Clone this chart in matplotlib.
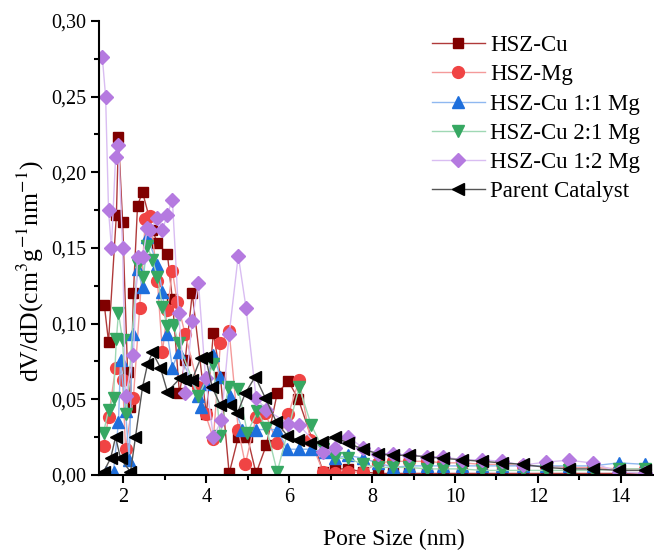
import matplotlib
matplotlib.use("Agg")
import matplotlib.pyplot as plt
from matplotlib.ticker import MultipleLocator, FuncFormatter

plt.rcParams['font.family'] = ['Liberation Serif', 'DejaVu Serif']
plt.rcParams['mathtext.fontset'] = 'stix'

# BJH pore size distributions, dV/dD in cm3 g-1 nm-1
tail_x = [7.11, 7.42, 7.78, 8.14, 8.51, 8.89, 9.33, 9.71, 10.17, 10.65,
          11.13, 11.64, 12.19, 12.75, 13.33, 13.95, 14.58]

cu_x = [1.54, 1.64, 1.83, 1.88, 1.98, 2.10, 2.17, 2.24, 2.34, 2.46, 2.70, 2.82,
        3.06, 3.18, 3.35, 3.49, 3.66, 4.00, 4.17, 4.34, 4.55, 4.77, 4.99, 5.20,
        5.45, 5.71, 5.98, 6.22, 6.82] + tail_x
cu_y = [0.112, 0.088, 0.172, 0.223, 0.167, 0.068, 0.045, 0.120, 0.178, 0.187,
        0.162, 0.153, 0.146, 0.116, 0.054, 0.076, 0.120, 0.040, 0.094, 0.065,
        0.001, 0.025, 0.025, 0.001, 0.020, 0.054, 0.062, 0.050, 0.002,
        0.004, 0.004, 0.002, 0.001, 0.001, 0.001, 0.001, 0.001, 0.001, 0.001,
        0.001, 0.001, 0.001, 0.001, 0.001, 0.001, 0.001]

mg_x = [1.52, 1.64, 1.81, 1.98, 2.05, 2.24, 2.39, 2.53, 2.65, 2.82, 2.94, 3.06,
        3.18, 3.30, 3.49, 3.81, 3.98, 4.17, 4.34, 4.55, 4.77, 4.94, 5.20, 5.42,
        5.71, 5.98, 6.24, 6.51, 6.82] + tail_x
mg_y = [0.019, 0.038, 0.071, 0.063, 0.017, 0.051, 0.110, 0.169, 0.171, 0.128,
        0.081, 0.109, 0.135, 0.114, 0.093, 0.058, 0.040, 0.024, 0.087, 0.095,
        0.030, 0.007, 0.038, 0.041, 0.021, 0.040, 0.063, 0.023, 0.002,
        0.001, 0.002, 0.002, 0.008, 0.009, 0.009, 0.009, 0.008, 0.008, 0.007,
        0.007, 0.006, 0.006, 0.005, 0.005, 0.004, 0.004]

m11_x = [1.57, 1.76, 1.88, 1.93, 2.05, 2.14, 2.22, 2.34, 2.46, 2.58, 2.82, 2.94,
         3.06, 3.18, 3.33, 3.81, 3.86, 3.98, 4.17, 4.34, 4.58, 4.87, 5.20, 5.71,
         5.95, 6.24, 6.53, 6.87] + tail_x
m11_y = [0.002, 0.002, 0.035, 0.076, 0.042, 0.010, 0.093, 0.136, 0.124, 0.157,
         0.139, 0.121, 0.093, 0.071, 0.081, 0.052, 0.045, 0.060, 0.079, 0.065,
         0.052, 0.030, 0.030, 0.030, 0.017, 0.017, 0.017, 0.015,
         0.011, 0.013, 0.011, 0.008, 0.005, 0.006, 0.006, 0.006, 0.006, 0.006,
         0.006, 0.006, 0.006, 0.006, 0.006, 0.008, 0.007]

m21_x = [1.52, 1.64, 1.76, 1.83, 1.88, 1.98, 2.07, 2.34, 2.46, 2.58, 2.70, 2.82,
         2.94, 3.06, 3.21, 3.33, 3.81, 4.17, 4.34, 4.53, 4.77, 4.99, 5.23, 5.45,
         5.71, 6.24, 6.53, 6.82] + tail_x
m21_y = [0.028, 0.043, 0.051, 0.090, 0.107, 0.089, 0.040, 0.139, 0.131, 0.151,
         0.142, 0.131, 0.111, 0.0985, 0.099, 0.087, 0.052, 0.073, 0.026, 0.058,
         0.057, 0.028, 0.042, 0.031, 0.002, 0.058, 0.033, 0.017,
         0.011, 0.011, 0.007, 0.005, 0.005, 0.005, 0.004, 0.004, 0.004, 0.003,
         0.003, 0.003, 0.003, 0.003, 0.003, 0.004, 0.004]

m12_x = [1.49, 1.57, 1.64, 1.71, 1.81, 1.88, 1.98, 2.05, 2.24, 2.34, 2.46, 2.58,
         2.65, 2.82, 2.94, 3.06, 3.18, 3.33, 3.49, 3.66, 3.81, 3.98, 4.17, 4.36,
         4.55, 4.77, 4.96, 5.20, 5.45, 5.98, 6.24, 6.82] + tail_x
m12_y = [0.276, 0.250, 0.175, 0.150, 0.210, 0.218, 0.150, 0.052, 0.079, 0.144,
         0.144, 0.163, 0.162, 0.170, 0.162, 0.172, 0.182, 0.107, 0.054, 0.102,
         0.127, 0.064, 0.025, 0.036, 0.093, 0.145, 0.110, 0.051, 0.043, 0.034,
         0.033, 0.015,
         0.018, 0.025, 0.018, 0.014, 0.014, 0.013, 0.012, 0.012, 0.010, 0.010,
         0.009, 0.0065, 0.0085, 0.0098, 0.0078, 0.002, 0.001]

par_x = [1.52, 1.69, 1.81, 1.93, 2.17, 2.29, 2.46, 2.58, 2.70, 2.89, 3.06, 3.37,
         3.49, 3.66, 3.86, 3.98, 4.14, 4.34, 4.58, 4.75, 4.94, 5.18, 5.42, 5.69,
         5.95, 6.22, 6.51, 6.80] + tail_x
par_y = [0.002, 0.011, 0.025, 0.011, 0.002, 0.025, 0.058, 0.073, 0.081, 0.071,
         0.055, 0.064, 0.063, 0.063, 0.077, 0.078, 0.058, 0.046, 0.046, 0.041,
         0.054, 0.065, 0.051, 0.035, 0.026, 0.023, 0.021, 0.022,
         0.025, 0.021, 0.017, 0.014, 0.013, 0.013, 0.012, 0.011, 0.010, 0.009,
         0.008, 0.007, 0.005, 0.004, 0.004, 0.003, 0.003]

series = [
    (cu_x, cu_y, 'HSZ-Cu', 's', '#800000', '#b03a3a', 7.5),
    (mg_x, mg_y, 'HSZ-Mg', 'o', '#f04444', '#f49a9a', 8.5),
    (m11_x, m11_y, 'HSZ-Cu 1:1 Mg', '^', '#1e6fdc', '#8fb8f0', 9),
    (m21_x, m21_y, 'HSZ-Cu 2:1 Mg', 'v', '#36a862', '#9fd8b4', 9),
    (m12_x, m12_y, 'HSZ-Cu 1:2 Mg', 'D', '#b57ae0', '#d9bdf2', 7),
    (par_x, par_y, 'Parent Catalyst', '<', '#000000', '#555555', 9),
]

fig = plt.figure(figsize=(6.54, 5.51), dpi=100)
ax = fig.add_axes([0.152, 0.138, 0.848, 0.824])

for x, y, name, mk, mcol, lcol, ms in series:
    ax.plot(x, y, color=lcol, lw=1.0, marker=mk, ms=ms,
            markerfacecolor=mcol, markeredgecolor=mcol, label=name)

ax.set_xlim(1.42, 14.8)
ax.set_ylim(0, 0.30)
ax.xaxis.set_major_locator(MultipleLocator(2))
ax.xaxis.set_minor_locator(MultipleLocator(1))
ax.yaxis.set_major_locator(MultipleLocator(0.05))
ax.yaxis.set_minor_locator(MultipleLocator(0.025))
ax.yaxis.set_major_formatter(FuncFormatter(lambda v, _: f"{v:.2f}".replace('.', ',')))

for side in ['top', 'right']:
    ax.spines[side].set_visible(False)
for side in ['left', 'bottom']:
    ax.spines[side].set_linewidth(1.5)
ax.tick_params(which='major', direction='out', length=6, width=1.5, labelsize=14.5)
ax.tick_params(which='minor', direction='out', length=3.5, width=1.5)

ax.set_xlabel('Pore Size (nm)', fontsize=17)
ax.set_ylabel('dV/dD(cm$^3$g$^{-1}$nm$^{-1}$)', fontsize=18.5)
ax.xaxis.set_label_coords(0.531, -0.143, transform=ax.transAxes)
ax.yaxis.set_label_coords(-0.125, 0.45, transform=ax.transAxes)
ax.xaxis.label.set_va('center')
ax.yaxis.label.set_va('center')

ax.legend(loc='upper left', bbox_to_anchor=(432 / 654, 1 - 35 / 551),
          bbox_transform=fig.transFigure, frameon=False, fontsize=16.5,
          handlelength=2.3, handletextpad=0.25, labelspacing=0.36,
          borderpad=0, borderaxespad=0)

fig.savefig('out.png', dpi=100)
